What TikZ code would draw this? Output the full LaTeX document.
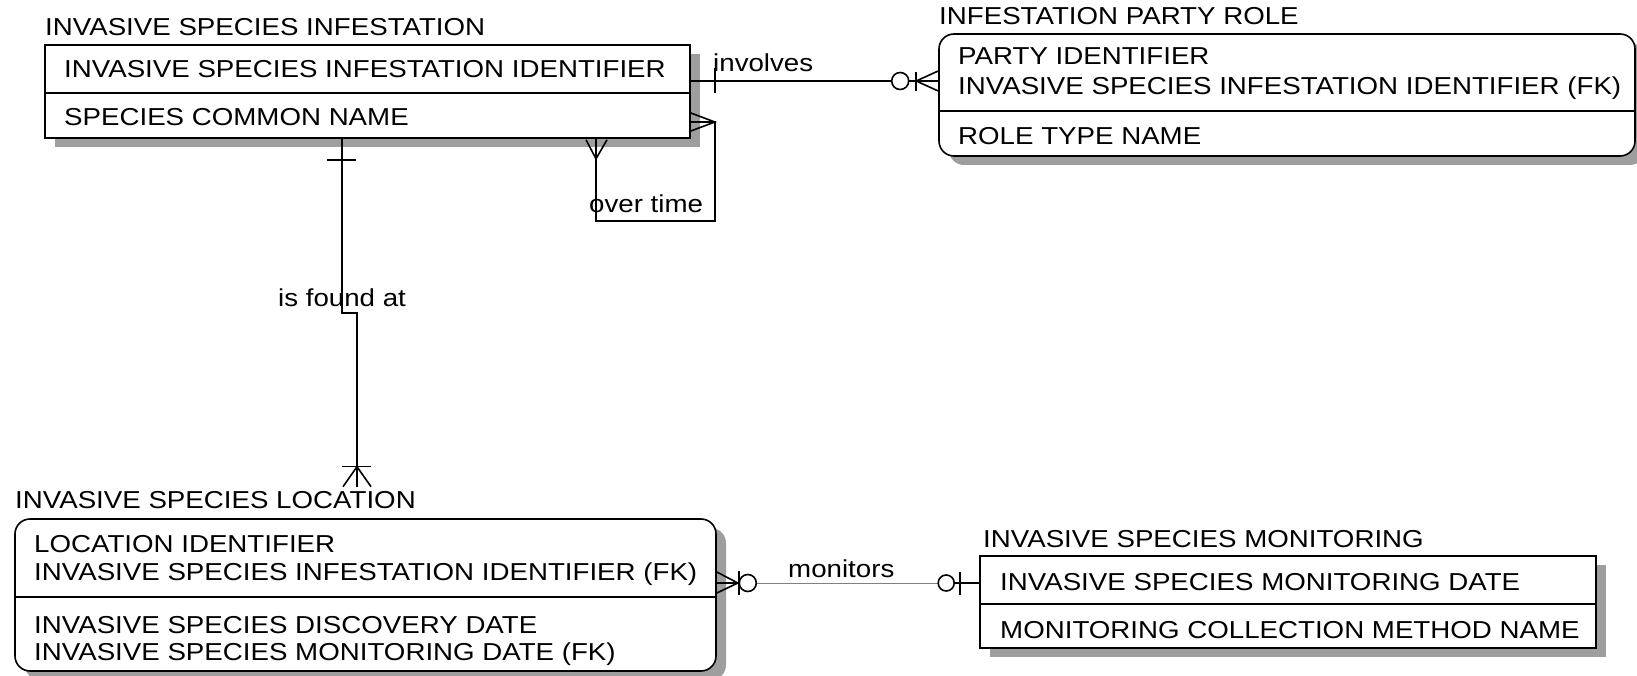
\documentclass[tikz,border=0pt]{standalone}
\usepackage{fontspec}
\setmainfont{Liberation Sans}[FakeStretch=1.13]
\usetikzlibrary{shadows,calc}
\definecolor{ShadowClr}{rgb}{0.62,0.62,0.62}
\definecolor{LinkClr}{rgb}{0.5,0.5,0.5}

\begin{document}
\begin{tikzpicture}[x=1pt,y=-1pt,
  every node/.style={font=\fontsize{24.5}{29}\selectfont},
  entity/.style={draw,line width=1.6pt,fill=white,inner sep=0pt,
    drop shadow={shadow xshift=10pt,shadow yshift=-9pt,fill=ShadowClr,opacity=1}},
  roundbox/.style={entity,rounded corners=15pt},
  title/.style={anchor=base west,inner xsep=0pt,inner ysep=4pt},
  attr/.style={anchor=base west,inner sep=0pt},
  rel/.style={line width=1.6pt},
  weak/.style={line width=1pt,color=LinkClr}]
\useasboundingbox (0,0) rectangle (1637,676);

% entities
\node[entity,minimum width=645pt,minimum height=93pt] (inf) at (367.5,91.5) {};
\node[roundbox,minimum width=696pt,minimum height=122pt] (ipr) at (1287,95) {};
\node[roundbox,minimum width=701pt,minimum height=152pt] (loc) at (365.5,595) {};
\node[entity,minimum width=616pt,minimum height=92pt] (mon) at (1288,602) {};

\draw[rel] (inf.west |- 0,93) -- (inf.east |- 0,93);
\draw[rel] (ipr.west |- 0,111) -- (ipr.east |- 0,111);
\draw[rel] (loc.west |- 0,597) -- (loc.east |- 0,597);
\draw[rel] (mon.west |- 0,604) -- (mon.east |- 0,604);

\node[title] (infT) at (45,36) {INVASIVE SPECIES INFESTATION};
\node[attr] (infK) at (64,78) {INVASIVE SPECIES INFESTATION IDENTIFIER};
\node[attr] (infA) at (64,126) {SPECIES COMMON NAME};

\node[title] (iprT) at (939,25) {INFESTATION PARTY ROLE};
\node[attr] (iprK1) at (958,65) {PARTY IDENTIFIER};
\node[attr] (iprK2) at (958,95) {INVASIVE SPECIES INFESTATION IDENTIFIER (FK)};
\node[attr] (iprA) at (958,145) {ROLE TYPE NAME};

\node[title] (locT) at (15,508) {INVASIVE SPECIES LOCATION};
\node[attr] (locK1) at (34,552) {LOCATION IDENTIFIER};
\node[attr] (locK2) at (34,580) {INVASIVE SPECIES INFESTATION IDENTIFIER (FK)};
\node[attr] (locA1) at (34,633) {INVASIVE SPECIES DISCOVERY DATE};
\node[attr] (locA2) at (34,660) {INVASIVE SPECIES MONITORING DATE (FK)};

\node[title] (monT) at (983,547) {INVASIVE SPECIES MONITORING};
\node[attr] (monK) at (1000,590) {INVASIVE SPECIES MONITORING DATE};
\node[attr] (monA) at (1000,638) {MONITORING COLLECTION METHOD NAME};

% involves
\coordinate (invS) at (inf.east |- 0,81);
\coordinate (invE) at (ipr.west |- 0,81);
\draw[rel] (invS) -- (invE);
\draw[rel] (invS) ++(24,-13) -- ++(0,25);
\draw[rel] (invE) ++(0,-10) -- ++(-22,10) -- ++(22,10);
\draw[rel] (invE) ++(-22,-9) -- ++(0,19);
\draw[rel,fill=white] (invE) ++(-38,0) circle[radius=8.5];
\node[attr] (invL) at (713,72) {involves};

% over time
\coordinate (ovtS) at (inf.south -| 596,0);
\coordinate (ovtE) at (inf.east |- 0,122);
\draw[rel] (ovtS) -- ++(0,82) -| ($(ovtE)+(24,0)$) -- (ovtE);
\draw[rel] (ovtS) ++(-10,1) -- ++(10,19) -- ++(11,-19);
\draw[rel] (ovtE) ++(0,-9) -- ++(24,9) -- ++(-24,9);
\node[attr] (ovtL) at (589,213) {over time};

% is found at
\coordinate (fndS) at (inf.south -| 342,0);
\coordinate (fndE) at (locT.north -| 357,0);
\draw[rel] (fndS) -- ++(0,174) -- ++(15,0) -- (fndE);
\draw[rel] (fndS) ++(-15,21) -- ++(29,0);
\draw[rel] (fndE) ++(-15,-20) -- ++(29,0);
\draw[rel] (fndE) ++(-14,0) -- ++(14,-20) -- ++(14,20);
\node[attr] (fndL) at (278,306) {is found at};

% monitors
\coordinate (monS) at (loc.east |- 0,583);
\coordinate (monE) at (mon.west |- 0,583);
\draw[weak] (monS) -- (monE);
\draw[rel] (monS) -- ++(23,0);
\draw[rel] (monS) ++(0,-11) -- ++(21,11) -- ++(-21,10);
\draw[rel] (monS) ++(22,-12) -- ++(0,24);
\draw[rel,fill=white] (monS) ++(31,0) circle[radius=8.5];
\draw[rel] (monE) -- ++(-26,0);
\draw[rel] (monE) ++(-19,-11) -- ++(0,23);
\draw[rel,fill=white] (monE) ++(-33,0) circle[radius=8];
\node[attr] (monL) at (788,577) {monitors};

\end{tikzpicture}
\end{document}
